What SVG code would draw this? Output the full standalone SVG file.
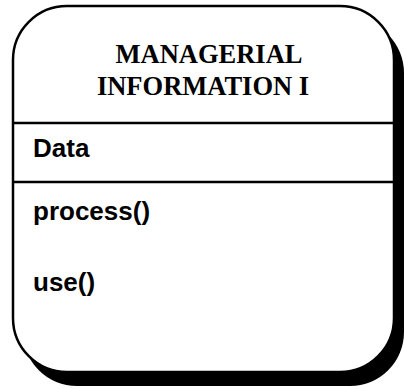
<svg xmlns="http://www.w3.org/2000/svg" width="404" height="389" viewBox="0 0 404 389">
<style>
.title{font-family:"Liberation Serif","Times New Roman",serif;font-weight:bold;font-size:26.5px;fill:#000;text-anchor:middle}
.item{font-family:"Liberation Sans",Arial,sans-serif;font-weight:bold;font-size:26px;fill:#000}
.sep{stroke:#000;stroke-width:2.5}
</style>
<rect width="404" height="389" fill="#fff"/>
<g id="class-managerial-information">
<rect x="23" y="19" width="381" height="367" rx="54" ry="54" fill="#000"/>
<rect x="13" y="6" width="381" height="366" rx="54" ry="54" fill="#fff" stroke="#000" stroke-width="2.5"/>
<text class="title" x="209" y="63">MANAGERIAL</text>
<text class="title" x="203" y="95">INFORMATION I</text>
<line class="sep" x1="13" y1="123" x2="394" y2="123"/>
<text class="item" x="33" y="157">Data</text>
<line class="sep" x1="13" y1="182" x2="394" y2="182"/>
<text class="item" x="33" y="220">process()</text>
<text class="item" x="33" y="291">use()</text>
</g>
</svg>
